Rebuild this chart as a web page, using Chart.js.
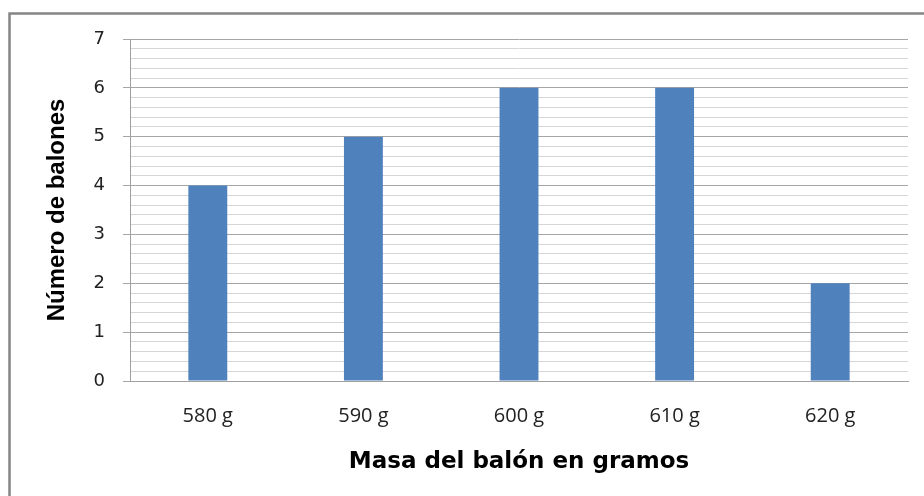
<!DOCTYPE html>
<html>
<head>
<meta charset="utf-8">
<script src="https://cdn.jsdelivr.net/npm/chart.js@4"></script>
<style>
  html, body { margin: 0; padding: 0; background: #fff; }
  #wrap { width: 924px; height: 496px; position: relative; }
</style>
</head>
<body>
<div id="wrap"><canvas id="c"></canvas></div>
<script>
const categories = ["580 g", "590 g", "600 g", "610 g", "620 g"];
const values = [4, 5, 6, 6, 2];
const yMin = 0;
const yMax = 7;
const yStep = 0.2;
const xTitle = "Masa del balón en gramos";
const yTitle = "Número de balones";

const isMajor = v => Math.abs(v - Math.round(v)) < 1e-6;

const framePlugin = {
  id: 'frame',
  beforeDraw(chart) {
    const ctx = chart.ctx;
    ctx.save();
    ctx.fillStyle = '#ffffff';
    ctx.fillRect(0, 0, chart.width, chart.height);
    ctx.strokeStyle = '#858585';
    ctx.lineWidth = 2.5;
    ctx.strokeRect(9.5, 13.5, 1200, 1200);
    ctx.restore();
  }
};

new Chart(document.getElementById('c'), {
  type: 'bar',
  data: {
    labels: categories,
    datasets: [{
      data: values,
      backgroundColor: '#4F81BD',
      borderWidth: 0,
      barPercentage: 0.25,
      categoryPercentage: 1
    }]
  },
  options: {
    responsive: true,
    maintainAspectRatio: false,
    animation: false,
    layout: { padding: { top: 39, right: 16, left: 0, bottom: 0 } },
    plugins: { legend: { display: false }, tooltip: { enabled: false } },
    scales: {
      x: {
        afterFit(scale) { scale.height = 115; },
        grid: { display: true, color: 'rgba(0,0,0,0)', drawTicks: false },
        border: { display: true, color: '#A0A0A0', width: 1 },
        ticks: {
          color: '#222222',
          padding: 23,
          font: { family: '"Open Sans"', size: 20 }
        },
        title: {
          display: true,
          text: xTitle,
          color: '#000000',
          font: { family: '"DejaVu Sans"', size: 23, weight: 'bold' },
          padding: { top: 0, bottom: 20 }
        }
      },
      y: {
        min: yMin,
        max: yMax,
        afterFit(scale) { scale.width = 130; },
        grid: {
          color: c => isMajor(c.tick.value) ? '#A6A6A6' : '#D6D6D6',
          tickColor: c => isMajor(c.tick.value) ? '#A6A6A6' : 'rgba(0,0,0,0)',
          tickLength: 7,
          lineWidth: 1
        },
        border: { display: true, color: '#A0A0A0', width: 1 },
        ticks: {
          stepSize: yStep,
          autoSkip: false,
          padding: 18,
          color: '#222222',
          font: { family: '"DejaVu Sans"', size: 18 },
          callback: v => isMajor(v) ? String(Math.round(v)) : ''
        },
        title: {
          display: true,
          text: yTitle,
          color: '#000000',
          font: { family: '"Liberation Sans"', size: 24, weight: 'bold' },
          padding: { top: 43, bottom: 0 }
        }
      }
    }
  },
  plugins: [framePlugin]
});
</script>
</body>
</html>
